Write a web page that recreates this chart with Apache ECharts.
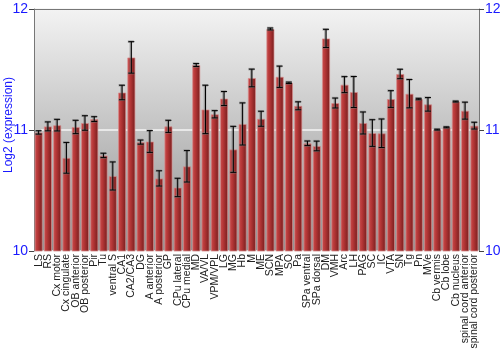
<!DOCTYPE html>
<html><head><meta charset="utf-8">
<script src="https://cdn.jsdelivr.net/npm/echarts@6/dist/echarts.min.js"></script>
<style>html,body{margin:0;padding:0;background:#fff}#c{width:500px;height:350px}</style>
</head><body><div id="c"></div>
<script>
const categories = ["LS","RS","Cx motor","Cx cingulate","OB anterior","OB posterior","Pir","Tu","ventral S","CA1","CA2/CA3","DG","A anterior","A posterior","GP","CPu lateral","CPu medial","MD","VA/VL","VPM/VPL","LG","MG","Hb","M","ME","SCN","MPA","SO","Pa","SPa ventral","SPa dorsal","DM","VMH","Arc","LH","PAG","SC","IC","VTA","SN","Tg","Pn","MVe","Cb vermis","Cb lobe","Cb nucleus","spinal cord anterior","spinal cord posterior"];
const values = [10.98,11.03,11.04,10.77,11.025,11.058,11.09,10.79,10.62,11.31,11.60,10.90,10.905,10.60,11.03,10.525,10.70,11.537,11.17,11.13,11.26,10.84,11.05,11.43,11.093,11.835,11.44,11.39,11.20,10.89,10.868,11.757,11.223,11.375,11.314,11.058,10.975,10.973,11.256,11.463,11.30,11.256,11.212,11.003,11.022,11.235,11.16,11.036];
const errors = [0.014,0.037,0.048,0.127,0.055,0.06,0.02,0.018,0.116,0.06,0.13,0.017,0.09,0.063,0.05,0.076,0.13,0.012,0.2,0.03,0.058,0.19,0.174,0.073,0.062,0.008,0.088,0.006,0.033,0.019,0.04,0.075,0.041,0.066,0.128,0.091,0.11,0.118,0.069,0.039,0.117,0.006,0.056,0.004,0.004,0.004,0.07,0.028];
const yTicks = [10,11,12];
const yTitle = 'Log2 (expression)';

const chart = echarts.init(document.getElementById('c'));
const errData = values.map((v,i)=>[i, v-errors[i], v+errors[i]]);
const blue = '#1a1aff';
chart.setOption({
  animation:false,
  grid:{left:34,right:21,top:9,bottom:99,show:true,borderWidth:0,containLabel:false,outerBoundsMode:'none',
    backgroundColor:new echarts.graphic.LinearGradient(0,0,0,1,[{offset:0,color:'#f3f3f3'},{offset:1,color:'#929292'}])},
  xAxis:{type:'category',data:categories,
    axisLine:{show:false},axisTick:{show:false},
    axisLabel:{rotate:90,interval:0,fontSize:10.5,color:'#222',fontFamily:'Liberation Sans, Arial',margin:3,hideOverlap:false,overflow:'none'}},
  yAxis:[{type:'value',min:10,max:12,interval:1,
    axisLine:{show:true,lineStyle:{color:'#777'}},axisTick:{show:true,length:5,lineStyle:{color:'#444'}},
    axisLabel:{color:blue,fontSize:14,fontFamily:'Liberation Sans, Arial',margin:6,formatter:v=>yTicks.includes(v)?String(v):''},
    splitLine:{show:true,lineStyle:{color:'#f4f4f4',width:1.5}}},
   {type:'value',min:10,max:12,interval:1,position:'right',
    axisLine:{show:true,lineStyle:{color:'#777'}},axisTick:{show:true,length:5,lineStyle:{color:'#444'}},
    axisLabel:{color:blue,fontSize:14,fontFamily:'Liberation Sans, Arial',margin:6},splitLine:{show:false}}],
  series:[{type:'bar',data:values,barCategoryGap:'12%',
    itemStyle:{color:new echarts.graphic.LinearGradient(0,0,1,0,[{offset:0,color:'#c85050'},{offset:0.35,color:'#b83838'},{offset:1,color:'#741c1c'}]),
      borderColor:'rgba(215,140,140,0.7)',borderWidth:1}},
   {type:'custom',data:errData,z:5,renderItem:function(params,api){
      const x=api.value(0);const lo=api.coord([x,api.value(1)]);const hi=api.coord([x,api.value(2)]);
      const cx=lo[0];const w=3;
      const shadow={stroke:'rgba(120,120,120,0.6)',lineWidth:2.5};
      const st={stroke:'#000',lineWidth:1};
      return {type:'group',children:[
        {type:'line',shape:{x1:cx-0.5,y1:lo[1],x2:cx-0.5,y2:hi[1]},style:shadow},
        {type:'line',shape:{x1:cx-w-0.5,y1:hi[1],x2:cx+w-0.5,y2:hi[1]},style:shadow},
        {type:'line',shape:{x1:cx-w-0.5,y1:lo[1],x2:cx+w-0.5,y2:lo[1]},style:shadow},
        {type:'line',shape:{x1:cx,y1:lo[1],x2:cx,y2:hi[1]},style:st},
        {type:'line',shape:{x1:cx-w,y1:hi[1],x2:cx+w,y2:hi[1]},style:st},
        {type:'line',shape:{x1:cx-w,y1:lo[1],x2:cx+w,y2:lo[1]},style:st}]};
    }}],
  graphic:[{type:'line',shape:{x1:34,y1:9.5,x2:479,y2:9.5},style:{stroke:'#777',lineWidth:1},z:10},
    {type:'text',x:9,y:125,rotation:Math.PI/2,style:{text:yTitle,fill:blue,fontSize:12,fontFamily:'Liberation Sans, Arial',align:'center',verticalAlign:'middle'}}]
});
</script></body></html>
